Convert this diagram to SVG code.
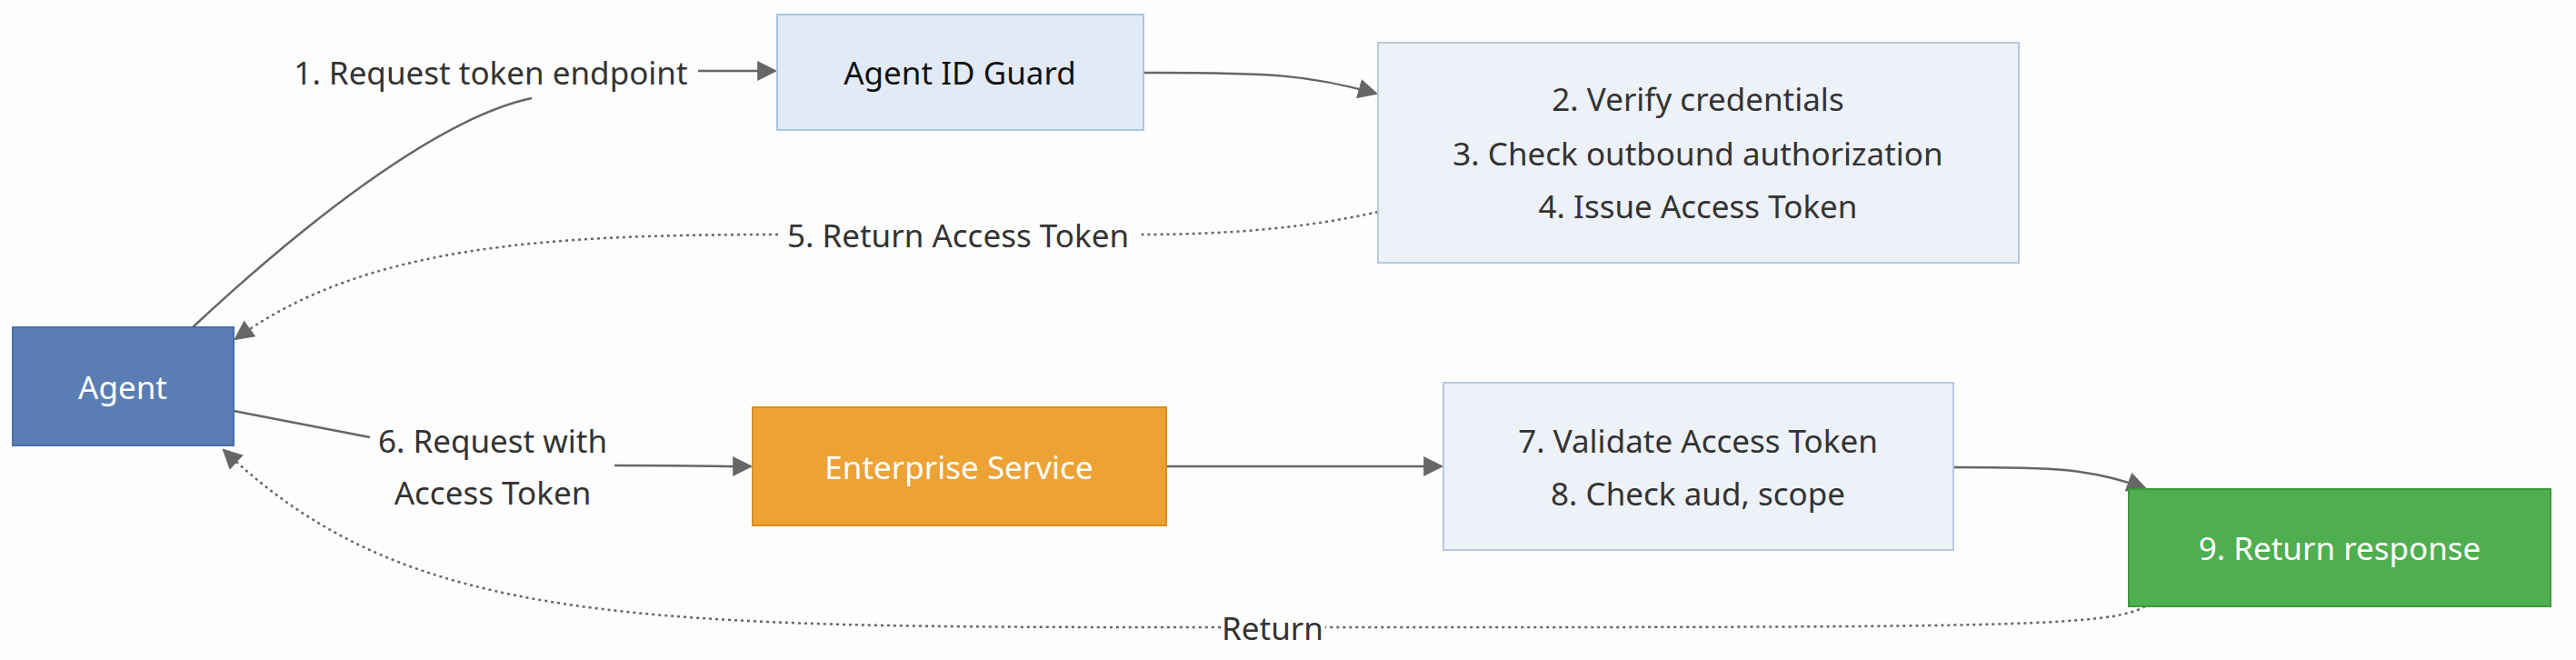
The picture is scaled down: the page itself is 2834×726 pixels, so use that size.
<svg xmlns="http://www.w3.org/2000/svg" width="2834" height="726" viewBox="0 0 2834 726">
<style>
text{font-family:"Noto Sans","Open Sans",sans-serif;font-size:35px;fill:#333;text-anchor:middle;dominant-baseline:central}
.w{fill:#fff}
.e{fill:none;stroke:#666;stroke-width:2.5}
.d{stroke-dasharray:3 4}
</style>
<defs>
<marker id="b" viewBox="0 0 10 10" refX="9" refY="5" markerWidth="22" markerHeight="22" orient="auto" markerUnits="userSpaceOnUse"><path d="M0,0L10,5L0,10z" fill="#666"/></marker>
</defs>
<rect width="2834" height="726" fill="#fdfdfd"/>
<g id="connectors">
<path class="e" d="M212,360 C330,250 480,130 585,108"/>
<path class="e" d="M768,78 L853,78" marker-end="url(#b)"/>
<path class="e" d="M1258,80 C1400,80 1440,82 1514,103" marker-end="url(#b)"/>
<path class="e d" d="M1516,233 C1420,255 1320,258 1252,258"/>
<path class="e d" d="M856,258 C600,258 400,270 259,373" marker-end="url(#b)"/>
<path class="e" d="M257,452 L407,481"/>
<path class="e" d="M676,512 C750,512 800,513 826,513" marker-end="url(#b)"/>
<path class="e" d="M1283,513 L1586,513" marker-end="url(#b)"/>
<path class="e" d="M2149,514 C2260,514 2300,515 2360,537" marker-end="url(#b)"/>
<path class="e d" d="M2360,667 C2320,690 2200,690 1458,690"/>
<path class="e d" d="M1343,690 C700,690 450,690 246,495" marker-end="url(#b)"/>
<text x="540" y="79">1. Request token endpoint</text>
<text x="1054" y="258">5. Return Access Token</text>
<text x="542" y="484">6. Request with</text>
<text x="542" y="541">Access Token</text>
<text x="1400" y="690">Return</text>
</g>
<g id="agent"><rect x="14" y="360" width="243" height="130" fill="#5a7db3" stroke="#4a6ea8" stroke-width="2"/><text class="w" x="135" y="425">Agent</text></g>
<g id="guard"><rect x="855" y="16" width="403" height="127" fill="#e2eaf6" stroke="#a9c4e8" stroke-width="2"/><text x="1056" y="79" style="fill:#111">Agent ID Guard</text></g>
<g id="verify"><rect x="1516" y="47" width="705" height="242" fill="#edf1f8" stroke="#b8c8e0" stroke-width="2"/><text x="1868" y="108">2. Verify credentials</text><text x="1868" y="168">3. Check outbound authorization</text><text x="1868" y="226">4. Issue Access Token</text></g>
<g id="enterprise"><rect x="828" y="448" width="455" height="130" fill="#eda236" stroke="#d88f1e" stroke-width="2"/><text class="w" x="1055" y="513">Enterprise Service</text></g>
<g id="validate"><rect x="1588" y="421" width="561" height="184" fill="#edf1f8" stroke="#b8c8e0" stroke-width="2"/><text x="1868" y="484">7. Validate Access Token</text><text x="1868" y="542">8. Check aud, scope</text></g>
<g id="response"><rect x="2342" y="538" width="464" height="129" fill="#4fae4f" stroke="#3b9a3b" stroke-width="2"/><text class="w" x="2574" y="602">9. Return response</text></g>
</svg>
